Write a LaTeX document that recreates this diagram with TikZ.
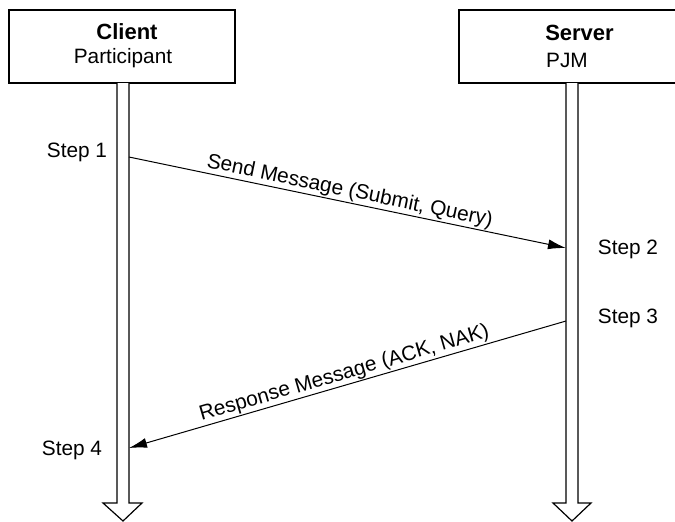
\documentclass[tikz,border=0pt]{standalone}
\usepackage{fontspec}
\setmainfont{Liberation Sans}
\usetikzlibrary{arrows.meta}
\begin{document}
\begin{tikzpicture}
  [x=0.5pt,y=-0.5pt,font=\fontsize{10.4}{12}\selectfont,
   box/.style={draw,line width=0.6pt,inner sep=0pt,minimum height=36.5pt},
   title/.style={font=\fontsize{11}{13}\selectfont\bfseries},
   steptext/.style={inner sep=1pt},
   msg/.style={line width=0.5pt,-{Latex[length=9pt,width=5pt]}},
   msgtext/.style={midway,sloped,above,inner sep=0.5pt},
   life/.style={draw,line width=0.6pt,fill=white}]
  \useasboundingbox (0,0) rectangle (675,521);
  \node[box,minimum width=113pt] (client) at (122,46.5) {};
  \node[box,minimum width=120.5pt] (server) at (579.5,46.5) {};
  \node[title] (clientname) at (127,32) {Client};
  \node (clientrole) at (123,58) {Participant};
  \node[title] (servername) at (579.5,33) {Server};
  \node (serverrole) at (567,60) {PJM};

  % lifelines
  \draw[life] (117,83) -- (117,503) -- (103,503) -- (123,521) -- (142,503) -- (129,503) -- (129,83);
  \draw[life] (566,83) -- (566,503) -- (553,503) -- (572,521) -- (591,503) -- (578,503) -- (578,83);

  \coordinate (step1) at (129,157);
  \coordinate (step2) at (566,248);
  \coordinate (step3) at (566,321);
  \coordinate (step4) at (129,448);
  \node[steptext] (s1) at (77,152) {Step 1};
  \node[steptext] (s2) at (628,249) {Step 2};
  \node[steptext] (s3) at (628,318) {Step 3};
  \node[steptext] (s4) at (72,450) {Step 4};

  \draw[msg] (step1) -- node[msgtext] {Send Message (Submit, Query)} (step2);
  \draw[msg] (step3) -- node[msgtext] {Response Message (ACK, NAK)} (step4);
\end{tikzpicture}
\end{document}
